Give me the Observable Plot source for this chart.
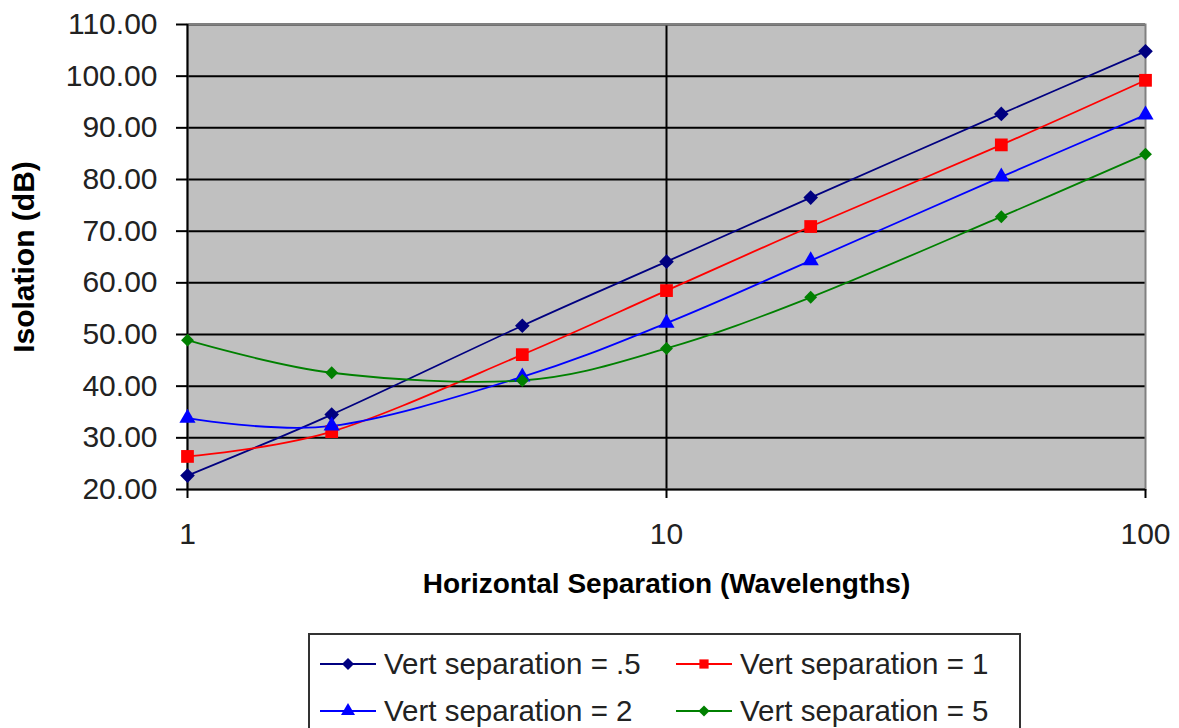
<!DOCTYPE html>
<html><head><meta charset="utf-8">
<script src="https://cdn.jsdelivr.net/npm/d3@7"></script>
<script src="https://cdn.jsdelivr.net/npm/@observablehq/plot@0.6"></script>
<style>
html,body{margin:0;padding:0;background:#fff;overflow:hidden;font-family:"Liberation Sans",Arial,sans-serif;}
#chart{position:absolute;left:0;top:0;}
#legend{position:absolute;left:308px;top:633px;width:713px;height:130px;border:2px solid #333;box-sizing:border-box;background:#fff;}
.item{position:absolute;height:40px;display:flex;align-items:center;font-size:29.5px;color:#222;white-space:nowrap;}
.item svg{margin-right:8px;}
</style></head><body>
<div id="chart"></div>
<div id="legend"></div>
<script>
// ---- data ----
const xValues = [1, 2, 5, 10, 20, 50, 100];
const seriesNames = ["Vert separation = .5", "Vert separation = 1", "Vert separation = 2", "Vert separation = 5"];
const vert05 = [22.7, 34.5, 51.7, 64.1, 76.5, 92.7, 104.8];
const vert1  = [26.4, 31.2, 46.1, 58.5, 70.9, 86.7, 99.2];
const vert2  = [33.8, 32.3, 41.8, 52.2, 64.3, 80.5, 92.5];
const vert5  = [48.9, 42.6, 41.1, 47.3, 57.2, 72.8, 84.9];
const yTicks = [20, 30, 40, 50, 60, 70, 80, 90, 100, 110];
const xTicks = [1, 10, 100];

const seriesValues = [vert05, vert1, vert2, vert5];
const colors = ["#000080", "#FF0000", "#0000FF", "#008000"];
const symbols = ["diamond2", "square", "triangle", "diamond2"];
const radii = [6.6, 7.2, 6.0, 5.8];

const data = [];
seriesNames.forEach((name, i) => xValues.forEach((x, j) => data.push({x, y: seriesValues[i][j], s: name})));

const lineMarks = [];
seriesNames.forEach((name, i) => {
  const d = data.filter(p => p.s === name);
  lineMarks.push(Plot.line(d, {x: "x", y: "y", stroke: colors[i], strokeWidth: 1.8, curve: "cardinal"}));
});
seriesNames.forEach((name, i) => {
  const d = data.filter(p => p.s === name);
  lineMarks.push(Plot.dot(d, {x: "x", y: "y", fill: colors[i], stroke: "none", symbol: symbols[i], r: radii[i]}));
});

const chart = Plot.plot({
  width: 1179, height: 620,
  marginLeft: 187, marginRight: 34, marginTop: 24, marginBottom: 131,
  style: {fontFamily: "Liberation Sans, Arial, sans-serif", background: "transparent", overflow: "visible"},
  x: {type: "log", domain: [1, 100], range: [187, 1145]},
  y: {domain: [20, 110], range: [489, 24]},
  marks: [
    Plot.frame({fill: "#C0C0C0", stroke: null}),
    Plot.gridY(yTicks.slice(1), {stroke: "#000", strokeOpacity: 1, strokeWidth: 2}),
    Plot.gridX([10], {stroke: "#000", strokeOpacity: 1, strokeWidth: 2}),
    Plot.frame({stroke: "#808080", strokeWidth: 2}),
    Plot.ruleX([1], {stroke: "#000", strokeWidth: 2}),
    Plot.ruleY([20], {stroke: "#000", strokeWidth: 2}),
    Plot.axisY({ticks: yTicks, tickFormat: d3.format(".2f"), tickSize: 11, tickPadding: 19, fontSize: 30, fill: "#222", stroke: "#000", strokeWidth: 2, label: null}),
    Plot.axisX({ticks: xTicks, tickFormat: d => String(d), tickSize: 9, tickPadding: 24, fontSize: 30, fill: "#222", stroke: "#000", strokeWidth: 2, label: null}),
    Plot.text(["Isolation (dB)"], {frameAnchor: "left", rotate: -90, dx: -163, fontSize: 30, fontWeight: "bold", fill: "#000", textAnchor: "middle", lineAnchor: "middle"}),
    Plot.text(["Horizontal Separation (Wavelengths)"], {frameAnchor: "bottom", dy: 95, fontSize: 28, fontWeight: "bold", fill: "#000", textAnchor: "middle", lineAnchor: "middle"}),
    ...lineMarks
  ]
});
document.getElementById("chart").appendChild(chart);

// ---- legend ----
const legend = d3.select("#legend");
const symMap = {diamond2: d3.symbolDiamond2, square: d3.symbolSquare, triangle: d3.symbolTriangle};
const legendPos = [[10, 9], [366, 9], [10, 56], [366, 56]];
const legendR = [5.4, 5.2, 5.2, 5.0];
seriesNames.forEach((name, i) => {
  const item = legend.append("div").attr("class", "item")
    .style("left", legendPos[i][0] + "px").style("top", legendPos[i][1] + "px");
  const svg = item.append("svg").attr("width", 56).attr("height", 20);
  svg.append("line").attr("x1", 0).attr("x2", 56).attr("y1", 10).attr("y2", 10)
    .attr("stroke", colors[i]).attr("stroke-width", 2);
  svg.append("path").attr("transform", "translate(28,10)")
    .attr("d", d3.symbol(symMap[symbols[i]], Math.PI * legendR[i] * legendR[i])())
    .attr("fill", colors[i]);
  item.append("span").text(name);
});
</script>
</body></html>
